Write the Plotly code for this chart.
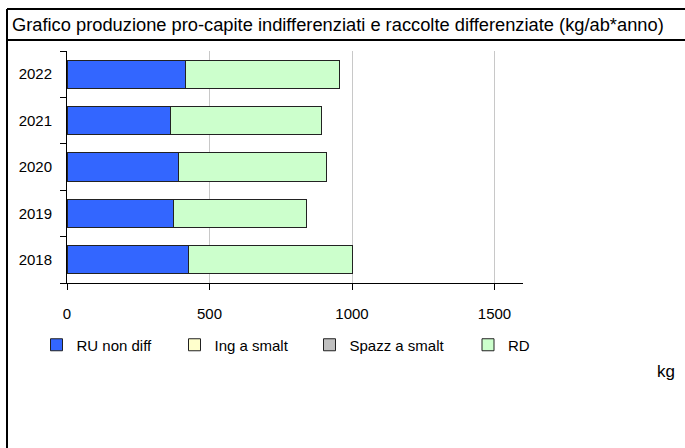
import plotly.graph_objects as go

years = ["2018", "2019", "2020", "2021", "2022"]
ru_non_diff = [425, 373, 391, 362, 417]
ing_smalt = [0, 0, 0, 0, 0]
spazz_smalt = [0, 0, 0, 0, 0]
rd = [576, 466, 520, 532, 540]
x_ticks = [0, 500, 1000, 1500]

W, H = 685, 448
L, R, T, B = 67, 523, 51, 283  # plot area in pixels

def px_x(p):
    return (p - L) / (R - L)

def px_y(p):
    return (B - p) / (B - T)

FONT = "Liberation Sans, Arial, sans-serif"

series = [
    ("RU non diff", ru_non_diff, "#3366FF", "legend"),
    ("Ing a smalt", ing_smalt, "#FFFFCC", "legend2"),
    ("Spazz a smalt", spazz_smalt, "#C0C0C0", "legend3"),
    ("RD", rd, "#CCFFCC", "legend4"),
]

fig = go.Figure()
for name, vals, color, lg in series:
    fig.add_trace(go.Bar(
        y=years, x=vals, name=name, orientation="h",
        marker=dict(color=color, line=dict(color="#222222", width=1)),
        legend=lg,
    ))

leg_common = dict(orientation="h", xanchor="left", yanchor="middle",
                  font=dict(family=FONT, size=15, color="#000"),
                  bgcolor="rgba(0,0,0,0)", itemwidth=30)
legend_centers = [56.5, 194.5, 329.5, 488]
legs = {}
for i, c in enumerate(legend_centers):
    key = "legend" if i == 0 else f"legend{i+1}"
    legs[key] = dict(leg_common, x=px_x(c - 20), y=px_y(345))

fig.update_layout(
    width=W, height=H,
    margin=dict(l=L, r=W - R, t=T, b=H - B, pad=0, autoexpand=False),
    paper_bgcolor="white", plot_bgcolor="white",
    barmode="stack", bargap=0.39,
    showlegend=True,
    font=dict(family=FONT, size=15, color="#000"),
    title=dict(text="Grafico produzione pro-capite indifferenziati e raccolte differenziate (kg/ab*anno)",
               x=12 / W, xref="container", xanchor="left",
               y=1 - 25 / H, yref="container", yanchor="middle",
               font=dict(family=FONT, size=18.3, color="#000")),
    xaxis=dict(range=[0, 1600], tickvals=x_ticks, ticktext=[str(v) for v in x_ticks],
               showgrid=True, gridcolor="#C8C8C8", gridwidth=1,
               showline=True, linecolor="#000", linewidth=1,
               ticks="outside", ticklen=6, tickcolor="#000",
               zeroline=False, tickfont=dict(family=FONT, size=15),
               ticklabelstandoff=11),
    yaxis=dict(type="category", categoryorder="array", categoryarray=years,
               showline=True, linecolor="#000", linewidth=1,
               ticks="outside", ticklen=6, tickcolor="#000", tickson="boundaries",
               showgrid=False, tickfont=dict(family=FONT, size=15),
               ticklabelstandoff=11),
    **legs,
)

# Frame lines
frame_w = 2
fig.add_shape(type="line", xref="paper", yref="paper",
              x0=px_x(7), x1=px_x(W + 5), y0=px_y(9), y1=px_y(9),
              line=dict(color="#000", width=frame_w))
fig.add_shape(type="line", xref="paper", yref="paper",
              x0=px_x(7), x1=px_x(W + 5), y0=px_y(40), y1=px_y(40),
              line=dict(color="#000", width=frame_w))
fig.add_shape(type="line", xref="paper", yref="paper",
              x0=px_x(7), x1=px_x(7), y0=px_y(9), y1=px_y(H + 5),
              line=dict(color="#000", width=frame_w))

fig.add_annotation(text="kg", xref="paper", yref="paper",
                   x=px_x(666), y=px_y(371), showarrow=False,
                   xanchor="center", yanchor="middle",
                   font=dict(family=FONT, size=17, color="#000"))

fig.write_html("out.html",
               config={"displayModeBar": False},
               post_script="document.body.style.margin='0';document.body.style.overflow='hidden';")
